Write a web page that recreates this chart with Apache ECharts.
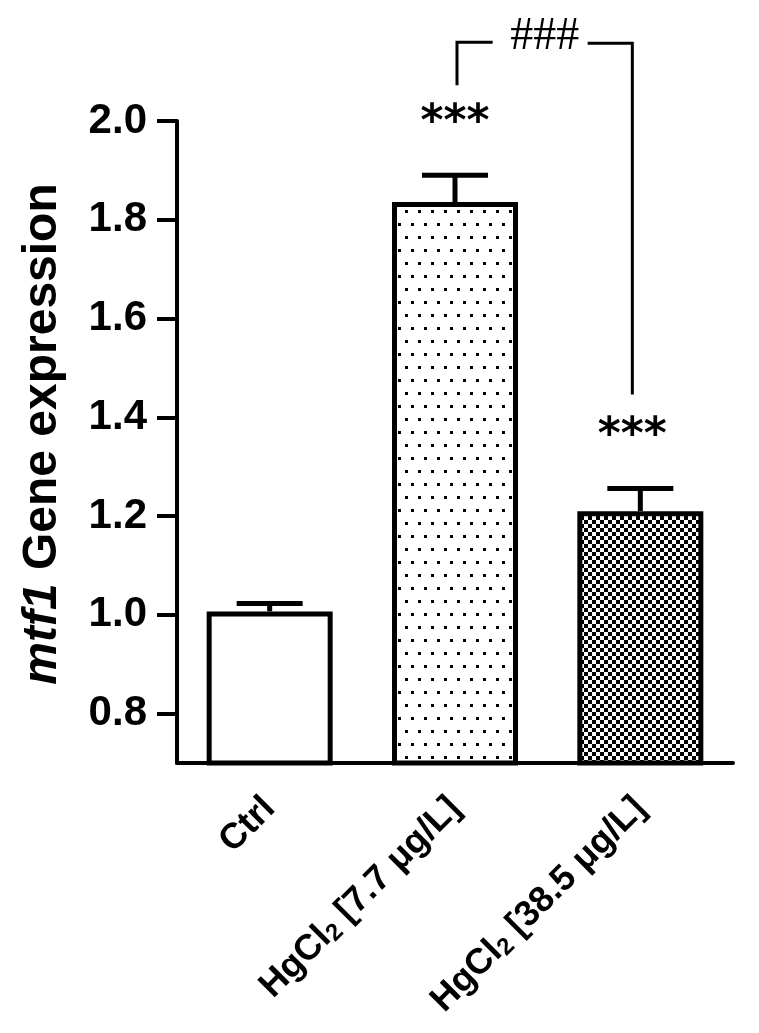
<!DOCTYPE html>
<html><head><meta charset="utf-8">
<script src="https://cdn.jsdelivr.net/npm/echarts@6/dist/echarts.min.js"></script>
<style>html,body{margin:0;padding:0;background:#fff}#c{width:759px;height:1033px}</style>
</head><body><div id="c"></div>
<script>
// ---- data ----
const categories = ['Ctrl', 'HgCl2 [7.7 μg/L]', 'HgCl2 [38.5 μg/L]'];
const means = [1.007, 1.836, 1.210];
const errUpper = [0.016, 0.054, 0.046];
const stars = ['', '***', '***'];
const yTicks = [0.8, 1.0, 1.2, 1.4, 1.6, 1.8, 2.0];
const compareFrom = 1, compareTo = 2, compareLabel = '###';

// ---- patterns ----
function dotPattern() {
  const c = document.createElement('canvas'); c.width = 13; c.height = 26;
  const g = c.getContext('2d');
  g.fillStyle = '#fff'; g.fillRect(0, 0, 13, 26);
  g.fillStyle = '#000'; g.fillRect(2, 2, 3, 3); g.fillRect(8, 15, 3, 3);
  return { image: c, repeat: 'repeat' };
}
function checkPattern() {
  const c = document.createElement('canvas'); c.width = 8; c.height = 8;
  const g = c.getContext('2d');
  g.fillStyle = '#fff'; g.fillRect(0, 0, 8, 8);
  g.fillStyle = '#000'; g.fillRect(0, 0, 4, 4); g.fillRect(4, 4, 4, 4);
  return { image: c, repeat: 'repeat' };
}
const fills = ['#ffffff', dotPattern(), checkPattern()];
const FONT = 'Liberation Sans, Arial, sans-serif';

const chart = echarts.init(document.getElementById('c'), null, { renderer: 'canvas' });

const option = {
  animation: false,
  backgroundColor: '#fff',
  grid: { left: 177, right: 26, top: 121, bottom: 270, containLabel: false },
  xAxis: {
    type: 'category',
    data: categories,
    boundaryGap: true,
    axisLine: { lineStyle: { color: '#000', width: 4 } },
    axisTick: { alignWithLabel: true, length: 20, lineStyle: { color: '#000', width: 4 } },
    axisLabel: {
      rotate: 45, margin: 40, color: '#000', fontFamily: FONT, fontWeight: 'bold', fontSize: 36,
      formatter: v => v.replace('HgCl2', 'HgCl{sub|2}'),
      rich: { sub: { fontSize: 24, fontWeight: 'bold', fontFamily: FONT, color: '#000', verticalAlign: 'bottom', padding: [14, 0, 0, 0] } }
    },
    splitLine: { show: false }
  },
  yAxis: {
    type: 'value',
    min: 0.7, max: 2.0,
    name: '{i|mtf1} Gene expression',
    nameLocation: 'middle', nameRotate: 90, nameGap: 110,
    nameTextStyle: {
      color: '#000', fontFamily: FONT, fontWeight: 'bold', fontSize: 48, padding: [0, 0, 0, 16],
      rich: { i: { fontStyle: 'italic', fontWeight: 'bold', fontFamily: FONT, fontSize: 48, color: '#000' } }
    },
    axisLine: { show: true, lineStyle: { color: '#000', width: 4 } },
    axisTick: { show: true, length: 20, customValues: yTicks, lineStyle: { color: '#000', width: 4 } },
    axisLabel: { customValues: yTicks, margin: 30, color: '#000', fontFamily: FONT, fontWeight: 'bold', fontSize: 42,
      formatter: v => Number(v).toFixed(1) },
    splitLine: { show: false }
  },
  series: [
    {
      type: 'bar',
      barWidth: 126,
      data: means.map((m, i) => ({ value: m, itemStyle: { color: fills[i] } })),
      itemStyle: { borderColor: '#000', borderWidth: 5 },
      z: 2
    },
    {
      type: 'custom',
      clip: false,
      z: 3,
      data: means.map((m, i) => [i, m, m + errUpper[i]]),
      renderItem: (params, api) => {
        const i = api.value(0);
        const p0 = api.coord([i, api.value(1)]);
        const p1 = api.coord([i, api.value(2)]);
        const st = { stroke: '#000', lineWidth: 5, fill: null };
        return {
          type: 'group',
          children: [
            { type: 'line', shape: { x1: p0[0], y1: p0[1], x2: p1[0], y2: p1[1] }, style: st },
            { type: 'line', shape: { x1: p1[0] - 33, y1: p1[1], x2: p1[0] + 33, y2: p1[1] }, style: st }
          ]
        };
      }
    },
    {
      type: 'custom',
      clip: false,
      z: 4,
      data: means.map((m, i) => [i, m + errUpper[i], stars[i]]),
      renderItem: (params, api) => {
        const idx = params.dataIndex;
        if (!stars[idx]) return null;
        const p = api.coord([api.value(0), api.value(1)]);
        const dx = idx === 2 ? -8 : 0;
        return {
          type: 'text',
          style: { x: p[0] + dx, y: p[1] - 52, text: stars[idx], align: 'center', verticalAlign: 'middle',
            font: 'bold 44px "DejaVu Sans", sans-serif', fill: '#000' }
        };
      }
    },
    {
      type: 'custom',
      clip: false,
      z: 4,
      data: [[compareFrom, compareTo]],
      renderItem: (params, api) => {
        const a = api.value(0), b = api.value(1);
        const pa = api.coord([a, means[a] + errUpper[a]]);
        const pb = api.coord([b, means[b] + errUpper[b]]);
        const xa = pa[0] + 2, xb = pb[0] - 8;
        const ya = pa[1] - 64 - 26, yb = pb[1] - 64 - 30;
        const top = Math.min(ya, yb) - 43;
        const mid = (xa + xb) / 2;
        const st = { stroke: '#000', lineWidth: 3, fill: null };
        return {
          type: 'group',
          children: [
            { type: 'polyline', shape: { points: [[xa, ya], [xa, top], [mid - 52, top]] }, style: st },
            { type: 'polyline', shape: { points: [[mid + 43, top + 1], [xb, top + 1], [xb, yb]] }, style: st },
            { type: 'text', style: { x: mid, y: top - 5, text: compareLabel, align: 'center', verticalAlign: 'middle',
              font: '46px "Liberation Serif", serif', fill: '#000' } }
          ]
        };
      }
    }
  ]
};
chart.setOption(option);
</script>
</body></html>
